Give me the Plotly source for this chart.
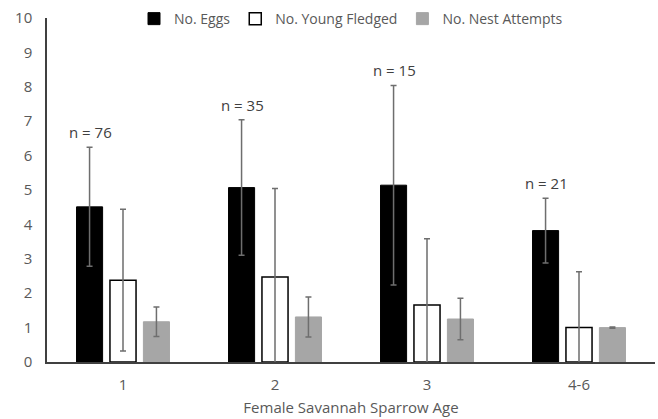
import plotly.graph_objects as go

categories = ["1", "2", "3", "4-6"]
n_labels = ["n = 76", "n = 35", "n = 15", "n = 21"]

eggs = [4.51, 5.07, 5.14, 3.82]
eggs_err = [1.73, 1.97, 2.9, 0.94]
young = [2.38, 2.47, 1.66, 1.00]
young_err = [2.06, 2.57, 1.92, 1.62]
nest = [1.17, 1.31, 1.25, 1.00]
nest_err = [0.43, 0.58, 0.60, 0.02]

FONT = "Open Sans"
ERR_COLOR = "#6e6e6e"

def err(vals):
    return dict(type="data", array=vals, visible=True, color=ERR_COLOR, thickness=1.5, width=3)

fig = go.Figure()
fig.add_trace(go.Bar(name="No. Eggs", x=categories, y=eggs, error_y=err(eggs_err),
                     marker=dict(color="black", line=dict(color="black", width=1))))
fig.add_trace(go.Bar(name="No. Young Fledged", x=categories, y=young, error_y=err(young_err),
                     marker=dict(color="white", line=dict(color="black", width=1.5))))
fig.add_trace(go.Bar(name="No. Nest Attempts", x=categories, y=nest, error_y=err(nest_err),
                     marker=dict(color="#A6A6A6", line=dict(color="#A6A6A6", width=1))))

for i, (lab, v, e) in enumerate(zip(n_labels, eggs, eggs_err)):
    fig.add_annotation(x=i, y=v + e, text=lab, showarrow=False, xref="x", yref="y",
                       xshift=-33, yshift=3, yanchor="bottom",
                       font=dict(family=FONT, size=15, color="#404040"))

fig.update_layout(
    width=658, height=419,
    margin=dict(l=47, r=3, t=15, b=57),
    paper_bgcolor="white", plot_bgcolor="white",
    barmode="group", bargap=0.34, bargroupgap=0.22,
    font=dict(family=FONT, size=15, color="#595959"),
    showlegend=True,
    legend=dict(orientation="h", x=0.5, xanchor="center", y=0.997, yanchor="middle",
                font=dict(family=FONT, size=14, color="#595959"),
                itemwidth=30, tracegroupgap=0, bgcolor="rgba(0,0,0,0)"),
    xaxis=dict(type="category", automargin=False, showline=True, linecolor="#404040", linewidth=1.5,
               showgrid=False, ticks="", ticklabelstandoff=8,
               tickfont=dict(family=FONT, size=15, color="#595959"),
               title=dict(text="Female Savannah Sparrow Age", standoff=10,
                          font=dict(family=FONT, size=15, color="#595959"))),
    yaxis=dict(range=[0, 10], dtick=1, automargin=False, showline=True, linecolor="#404040", linewidth=1.5,
               showgrid=False, zeroline=False, ticks="", ticklabelstandoff=10,
               tickfont=dict(family=FONT, size=15, color="#595959")),
)

fig.write_html("out.html", config={"displayModeBar": False},
               post_script="document.body.style.margin='0';")
